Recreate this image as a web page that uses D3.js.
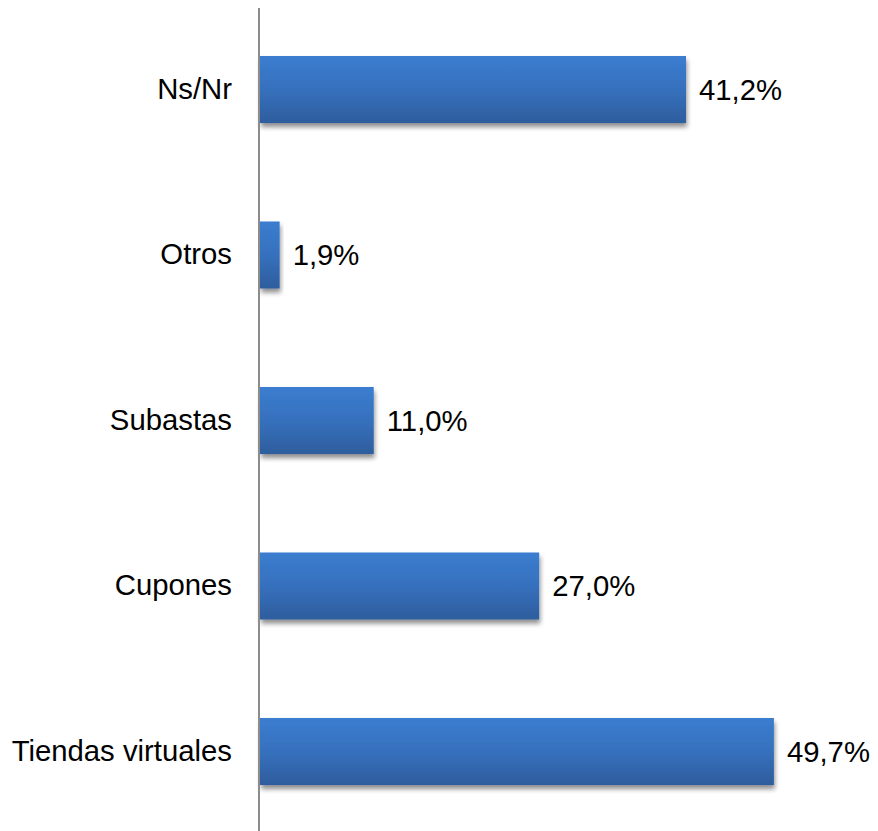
<!DOCTYPE html>
<html>
<head>
<meta charset="utf-8">
<script src="https://cdn.jsdelivr.net/npm/d3@7/dist/d3.min.js"></script>
<style>
  html, body { margin: 0; padding: 0; background: #fff; }
  svg { display: block; }
  text { font-family: "Liberation Sans", Arial, sans-serif; fill: #000; }
</style>
</head>
<body>
<svg id="chart" width="878" height="831"></svg>
<script>
// Categories, top to bottom
const categories = ["Ns/Nr", "Otros", "Subastas", "Cupones", "Tiendas virtuales"];
// Share of respondents, %
const values = [41.2, 1.9, 11.0, 27.0, 49.7];
const valueLabels = ["41,2%", "1,9%", "11,0%", "27,0%", "49,7%"];

const svg = d3.select("#chart");
const x0 = 260;

const x = d3.scaleLinear().domain([0, 50]).range([x0, x0 + 517]);
const y = d3.scaleBand()
  .domain(categories)
  .range([6.75, 834.25])
  .paddingInner(0.595)
  .paddingOuter(0.2975);

const defs = svg.append("defs");
const grad = defs.append("linearGradient")
  .attr("id", "barGrad").attr("x1", 0).attr("y1", 0).attr("x2", 0).attr("y2", 1);
grad.append("stop").attr("offset", "0%").attr("stop-color", "#3b7dd0");
grad.append("stop").attr("offset", "50%").attr("stop-color", "#3670bd");
grad.append("stop").attr("offset", "100%").attr("stop-color", "#2e5d9d");

const shadow = defs.append("filter").attr("id", "shadow")
  .attr("x", "-10%").attr("y", "-20%").attr("width", "130%").attr("height", "160%");
shadow.append("feGaussianBlur").attr("in", "SourceAlpha").attr("stdDeviation", 2.5).attr("result", "b");
shadow.append("feOffset").attr("in", "b").attr("dx", 1).attr("dy", 4).attr("result", "o");
shadow.append("feComponentTransfer").attr("in", "o").attr("result", "s")
  .append("feFuncA").attr("type", "linear").attr("slope", 0.45);
const merge = shadow.append("feMerge");
merge.append("feMergeNode").attr("in", "s");
merge.append("feMergeNode").attr("in", "SourceGraphic");

// bars
svg.append("g").selectAll("rect")
  .data(categories)
  .join("rect")
  .attr("x", x(0))
  .attr("y", d => y(d))
  .attr("width", (d, i) => x(values[i]) - x(0))
  .attr("height", y.bandwidth())
  .attr("fill", "url(#barGrad)")
  .attr("filter", "url(#shadow)");

// vertical axis with category labels
const axis = svg.append("g")
  .attr("transform", `translate(${x0 - 1},0)`)
  .call(d3.axisLeft(y).tickSize(0).tickPadding(27));
axis.select(".domain").attr("stroke", "#8c8c8c").attr("stroke-width", 2)
  .attr("d", "M0,8V831");
axis.selectAll(".tick text")
  .style("font-family", '"Liberation Sans", Arial, sans-serif')
  .style("font-size", "29.3px")
  .attr("fill", "#000");

// value labels
svg.append("g").selectAll("text")
  .data(categories)
  .join("text")
  .attr("x", (d, i) => x(values[i]) + 13)
  .attr("y", d => y(d) + y.bandwidth() / 2)
  .attr("dy", "0.35em")
  .style("font-size", "29.3px")
  .text((d, i) => valueLabels[i]);
</script>
</body>
</html>
